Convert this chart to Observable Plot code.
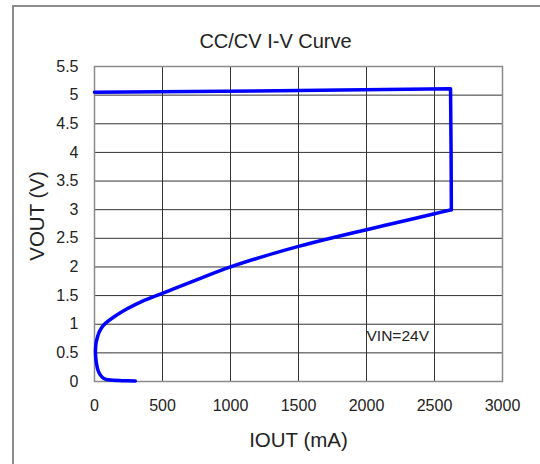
<!DOCTYPE html>
<html><head><meta charset="utf-8">
<script src="https://cdn.jsdelivr.net/npm/d3@7"></script>
<script src="https://cdn.jsdelivr.net/npm/@observablehq/plot@0.6"></script>
<style>
body{margin:0;background:#fff;}
#wrap{position:relative;width:540px;height:464px;overflow:hidden;background:#fff;}
#border{position:absolute;left:12px;top:5px;width:560px;height:480px;border-top:2px solid #8c8c8c;border-left:2px solid #8c8c8c;pointer-events:none;}
</style></head><body>
<div id="wrap"><div id="border"></div></div>
<script>
// Curved part (IOUT mA, VOUT V), drawn from the short-circuit end
const curveI = [300, 200, 140, 100, 80, 55, 39, 25, 15, 9, 7, 12, 20, 32, 50, 70, 93, 150, 240, 350, 485, 600, 755, 1000, 1250, 1500, 1750, 2000, 2250, 2500, 2624];
const curveV = [0.01, 0.015, 0.02, 0.03, 0.04, 0.08, 0.13, 0.2, 0.31, 0.42, 0.54, 0.68, 0.76, 0.85, 0.93, 0.99, 1.04, 1.14, 1.27, 1.40, 1.525, 1.635, 1.78, 2.0, 2.19, 2.36, 2.51, 2.65, 2.79, 2.93, 3.0];
// Straight part: current-limit edge and regulation line
const edgeI = [2624, 2622, 2618, 1500, 0];
const edgeV = [3.0, 4.0, 5.11, 5.08, 5.05];

const xTicks = [0, 500, 1000, 1500, 2000, 2500, 3000];
const yTicks = [0, 0.5, 1, 1.5, 2, 2.5, 3, 3.5, 4, 4.5, 5, 5.5];
const yTickLabels = ["0", "0.5", "1", "1.5", "2", "2.5", "3", "3.5", "4", "4.5", "5", "5.5"];

const titleText = ["CC/CV I-V Curve"];
const xLabelText = ["IOUT (mA)"];
const yLabelText = ["VOUT (V)"];
const noteText = ["VIN=24V"];
const noteI = [2000];
const noteV = [0.79];

const curve = curveI.map((x, i) => ({x, y: curveV[i]}));
const edge = edgeI.map((x, i) => ({x, y: edgeV[i]}));
const notes = noteText.map((t, i) => ({t, x: noteI[i], y: noteV[i]}));

const lineStyle = {x: "x", y: "y", stroke: "#0000ff", strokeWidth: 3.5, strokeLinejoin: "round", strokeLinecap: "round"};

const chart = Plot.plot({
  width: 540, height: 464,
  marginLeft: 94, marginRight: 38, marginTop: 66, marginBottom: 83,
  style: {fontFamily: "'Liberation Sans', Arial, sans-serif", fontSize: "16px", color: "#222", background: "transparent", overflow: "visible"},
  x: {domain: [0, 3000], ticks: xTicks, tickSize: 0, tickPadding: 18, label: null, tickFormat: d => String(d)},
  y: {domain: [0, 5.5], ticks: yTicks, tickSize: 0, tickPadding: 16, label: null, tickFormat: d => yTickLabels[yTicks.indexOf(d)]},
  marks: [
    Plot.gridX(xTicks, {stroke: "#333", strokeOpacity: 1, strokeWidth: 1}),
    Plot.gridY(yTicks, {stroke: "#333", strokeOpacity: 1, strokeWidth: 1}),
    Plot.frame({stroke: "#8a8a8a", strokeWidth: 1.5}),
    Plot.line(curve, {...lineStyle, curve: "catmull-rom"}),
    Plot.line(edge, lineStyle),
    Plot.text(notes, {x: "x", y: "y", text: "t", textAnchor: "start", fontSize: 15.5, fill: "#222"}),
    Plot.text(titleText, {frameAnchor: "top", text: d => d, textAnchor: "middle", lineAnchor: "middle", dx: -23, dy: -25, fontSize: 20, fill: "#222"}),
    Plot.text(xLabelText, {frameAnchor: "bottom", text: d => d, textAnchor: "middle", lineAnchor: "middle", dx: 0, dy: 59, fontSize: 20.5, fill: "#222"}),
    Plot.text(yLabelText, {frameAnchor: "left", text: d => d, textAnchor: "middle", lineAnchor: "middle", rotate: -90, dx: -57, dy: -8, fontSize: 20.5, fill: "#222"})
  ]
});
chart.style.position = "absolute";
chart.style.left = "0px";
chart.style.top = "0px";
document.getElementById("wrap").appendChild(chart);
</script>
</body></html>
